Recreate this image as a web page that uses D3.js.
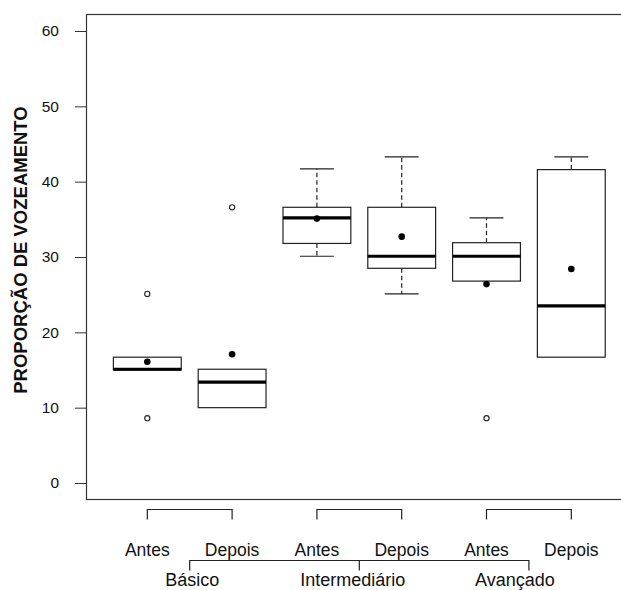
<!DOCTYPE html>
<html>
<head>
<meta charset="utf-8">
<script src="https://cdn.jsdelivr.net/npm/d3@7"></script>
<style>
  html, body { margin: 0; padding: 0; background: #fff; }
  svg { display: block; }
  text { font-family: "Liberation Sans", Arial, sans-serif; fill: #111; }
</style>
</head>
<body>
<svg id="chart" width="621" height="590"></svg>
<script>
// ---- data ----
const groups = ["Básico", "Intermediário", "Avançado"];
const times = ["Antes", "Depois"];
const whiskerLow  = [15.0, 10.0, 30.1, 25.1, 26.8, 16.7];
const q1          = [15.0, 10.0, 31.8, 28.5, 26.8, 16.7];
const medians     = [15.1, 13.4, 35.2, 30.1, 30.1, 23.5];
const q3          = [16.7, 15.1, 36.6, 36.6, 31.9, 41.6];
const whiskerHigh = [16.7, 15.1, 41.7, 43.3, 35.2, 43.3];
const means       = [16.1, 17.1, 35.1, 32.7, 26.4, 28.4];
const outliers    = [[25.1, 8.6], [36.6], [], [], [8.6], []];
const yTicks = [0, 10, 20, 30, 40, 50, 60];
const yTitle = "PROPORÇÃO DE VOZEAMENTO";

// ---- layout ----
const frame = { left: 86, top: 14, right: 640, bottom: 499 };
const svg = d3.select("#chart");

const boxes = [];
groups.forEach((g, gi) => times.forEach((t, ti) => boxes.push({ g, t, i: gi * 2 + ti + 1 })));

const x = d3.scaleLinear().domain([1, 6]).range([147.3, 571.3]);
const unit = x(2) - x(1);
const y = d3.scaleLinear().domain([0, 60]).range([483, 31]);
const bw = unit * 0.8;

// frame
svg.append("rect")
  .attr("x", frame.left + 0.5).attr("y", frame.top + 0.5)
  .attr("width", frame.right - frame.left).attr("height", frame.bottom - frame.top)
  .attr("fill", "none").attr("stroke", "#333").attr("stroke-width", 1.2);

// y axis
const yAxis = d3.axisLeft(y).tickValues(yTicks).tickSize(11).tickPadding(16).tickFormat(d3.format("d"));
const ya = svg.append("g").attr("transform", `translate(${frame.left},0)`).call(yAxis);
ya.select(".domain").remove();
ya.selectAll(".tick line").attr("stroke", "#333");
ya.selectAll(".tick text").style("font-size", "15.5px").attr("fill", "#222")
  .style("font-family", '"Liberation Sans", Arial, sans-serif');

// y title
svg.append("text")
  .attr("transform", `translate(27,250) rotate(-90)`)
  .attr("text-anchor", "middle")
  .style("font-size", "18.5px").style("font-weight", "bold")
  .text(yTitle);

// boxes
const gB = svg.append("g");
boxes.forEach((b, k) => {
  const cx = x(b.i);
  if (whiskerHigh[k] > q3[k]) {
    gB.append("line").attr("x1", cx).attr("x2", cx).attr("y1", y(q3[k])).attr("y2", y(whiskerHigh[k]))
      .attr("stroke", "#222").attr("stroke-dasharray", "4.5,3").attr("stroke-width", 1.2);
    gB.append("line").attr("x1", cx - bw / 4).attr("x2", cx + bw / 4).attr("y1", y(whiskerHigh[k])).attr("y2", y(whiskerHigh[k]))
      .attr("stroke", "#222").attr("stroke-width", 1.2);
  }
  if (whiskerLow[k] < q1[k]) {
    gB.append("line").attr("x1", cx).attr("x2", cx).attr("y1", y(q1[k])).attr("y2", y(whiskerLow[k]))
      .attr("stroke", "#222").attr("stroke-dasharray", "4.5,3").attr("stroke-width", 1.2);
    gB.append("line").attr("x1", cx - bw / 4).attr("x2", cx + bw / 4).attr("y1", y(whiskerLow[k])).attr("y2", y(whiskerLow[k]))
      .attr("stroke", "#222").attr("stroke-width", 1.2);
  }
  gB.append("rect").attr("x", cx - bw / 2).attr("y", y(q3[k]))
    .attr("width", bw).attr("height", y(q1[k]) - y(q3[k]))
    .attr("fill", "#fff").attr("stroke", "#222").attr("stroke-width", 1.2);
  gB.append("line").attr("x1", cx - bw / 2).attr("x2", cx + bw / 2).attr("y1", y(medians[k])).attr("y2", y(medians[k]))
    .attr("stroke", "#000").attr("stroke-width", 3.2);
  outliers[k].forEach(v => {
    gB.append("circle").attr("cx", cx).attr("cy", y(v)).attr("r", 2.6)
      .attr("fill", "#fff").attr("stroke", "#222").attr("stroke-width", 1.1);
  });
  gB.append("circle").attr("cx", cx).attr("cy", y(means[k])).attr("r", 3.3).attr("fill", "#000");
});

// x labels (Antes / Depois) and brackets
const gX = svg.append("g");
groups.forEach((g, gi) => {
  const a = x(gi * 2 + 1), b = x(gi * 2 + 2);
  gX.append("path").attr("d", `M${a},519.5V509.5H${b}V519.5`)
    .attr("fill", "none").attr("stroke", "#222").attr("stroke-width", 1.2);
});
boxes.forEach(b => {
  gX.append("text").attr("x", x(b.i)).attr("y", 556).attr("text-anchor", "middle")
    .style("font-size", "17.5px").text(b.t);
});
const gc = groups.map((g, gi) => (x(gi * 2 + 1) + x(gi * 2 + 2)) / 2);
gX.append("path").attr("d", `M${gc[0]},570.5V560.5H${gc[2]}V570.5M${gc[1]},560.5V570.5`)
  .attr("fill", "none").attr("stroke", "#222").attr("stroke-width", 1.2);
const groupLabelShift = [2.5, -6.5, -14];
groups.forEach((g, gi) => {
  gX.append("text").attr("x", gc[gi] + groupLabelShift[gi]).attr("y", 585.5).attr("text-anchor", "middle")
    .style("font-size", "18px").text(g);
});
</script>
</body>
</html>
